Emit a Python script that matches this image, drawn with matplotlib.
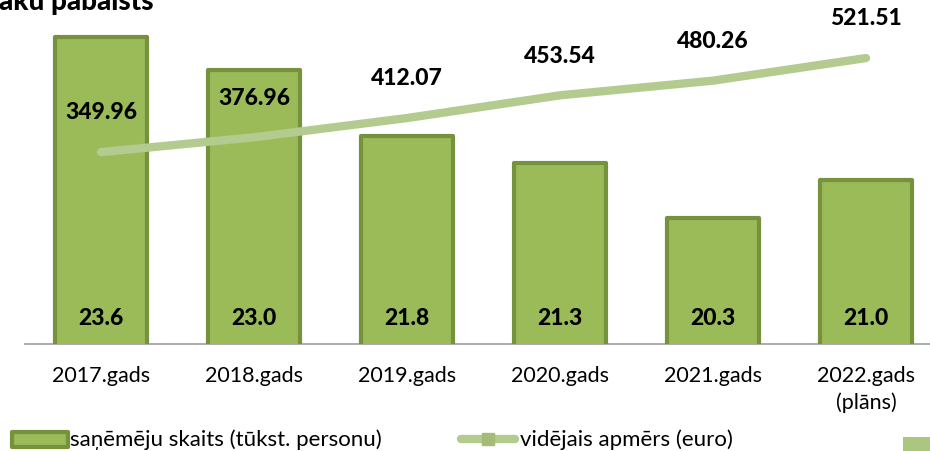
import matplotlib
matplotlib.use("Agg")
import matplotlib.pyplot as plt
import matplotlib.transforms as mtransforms
from matplotlib.patches import Rectangle
from matplotlib.lines import Line2D

plt.rcParams['font.family'] = ['Lato', 'DejaVu Sans']

categories = ['2017.gads', '2018.gads', '2019.gads', '2020.gads', '2021.gads', '2022.gads\n(plāns)']
recipients = [23.6, 23.0, 21.8, 21.3, 20.3, 21.0]
avg_amount = [349.96, 376.96, 412.07, 453.54, 480.26, 521.51]
legend_labels = ['saņēmēju skaits (tūkst. personu)', 'vidējais apmērs (euro)']
title_text = 'aku pabalsts'

W, H = 930, 452
fig = plt.figure(figsize=(W / 100, H / 100), dpi=100)

def fx(px):
    return px / W

def fy(py):
    return 1 - py / H

ax = fig.add_axes([fx(24.5), fy(345), 918 / W, 329 / H])
bar_fill = '#9BBB59'
bar_edge = '#76923C'
line_col = '#B3CB8F'
LABEL_WEIGHT = 'black'

x = list(range(len(categories)))
ax.bar(x, recipients, width=0.6, bottom=0, color=bar_fill, edgecolor=bar_edge,
       linewidth=3.0, joinstyle='round', zorder=3)
ax.set_ylim(18, 24)
ax.set_xlim(-0.5, len(categories) - 0.5)
for s in ['top', 'right', 'left']:
    ax.spines[s].set_visible(False)
ax.spines['bottom'].set_color('#A6A6A6')
ax.spines['bottom'].set_linewidth(1.3)
ax.spines['bottom'].set_zorder(2)
ax.set_yticks([])
ax.set_xticks(x)
ax.set_xticklabels(categories, fontsize=15.5, linespacing=1.4)
ax.tick_params(axis='x', length=0, pad=15)

trans = mtransforms.blended_transform_factory(ax.transData, ax.transAxes)
for i, v in enumerate(recipients):
    ax.text(i, 0.082, f'{v:.1f}', transform=trans, ha='center', va='center',
            fontsize=16.5, fontweight=LABEL_WEIGHT, color='black', zorder=5)

ax2 = ax.twinx()
ax2.set_ylim(0, 600)
ax2.axis('off')
ax2.plot(x, avg_amount, color=line_col, linewidth=6, solid_capstyle='round',
         solid_joinstyle='round', zorder=4)
for i, v in enumerate(avg_amount):
    ax2.annotate(f'{v:.2f}', (i, v), xytext=(0, 29), textcoords='offset points',
                 ha='center', va='center', fontsize=16.5, fontweight=LABEL_WEIGHT,
                 color='black', zorder=6)

# title (cropped as in the source)
fig.text(fx(-1), fy(10), title_text, ha='left', va='baseline', fontsize=20,
         fontweight=LABEL_WEIGHT, color='black')

# legend
fig.patches.append(Rectangle((fx(12), fy(448)), fx(68) - fx(12), fy(433) - fy(448),
                             transform=fig.transFigure, facecolor=bar_fill,
                             edgecolor=bar_edge, linewidth=3.0, joinstyle='round'))
fig.text(fx(70), fy(440), legend_labels[0], ha='left', va='center', fontsize=16)
fig.lines.append(Line2D([fx(461), fx(515)], [fy(440), fy(440)], transform=fig.transFigure,
                        color=line_col, linewidth=6, solid_capstyle='round'))
fig.lines.append(Line2D([fx(488)], [fy(440)], transform=fig.transFigure, marker='s',
                        markersize=8, markerfacecolor='#A3BD78', markeredgecolor='#A3BD78',
                        linestyle='none'))
fig.text(fx(520), fy(440), legend_labels[1], ha='left', va='center', fontsize=16)
fig.patches.append(Rectangle((fx(903), fy(453)), fx(930) - fx(903), fy(438) - fy(453),
                             transform=fig.transFigure, facecolor='#ABC67F',
                             edgecolor='none'))

fig.savefig('out.png', dpi=100)
